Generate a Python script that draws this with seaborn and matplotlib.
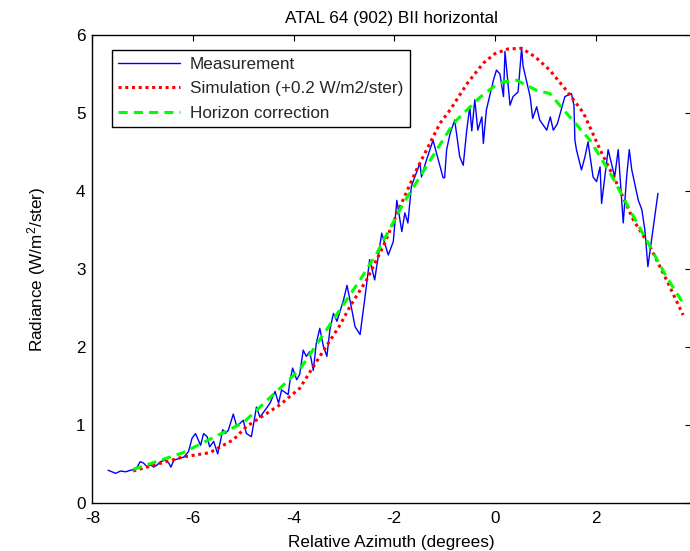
import numpy as np
import pandas as pd
import matplotlib
matplotlib.use("Agg")
import matplotlib.pyplot as plt
import seaborn as sns

# ---- data ----
meas_x = [-7.69, -7.61, -7.54, -7.44, -7.34, -7.24, -7.17, -7.11, -7.05, -6.98,
          -6.91, -6.85, -6.78, -6.71, -6.65, -6.55, -6.48, -6.44, -6.38, -6.28,
          -6.18, -6.09, -6.02, -5.95, -5.85, -5.79, -5.72, -5.67, -5.59, -5.51,
          -5.45, -5.41, -5.36, -5.30, -5.20, -5.13, -5.07, -5.00, -4.94, -4.84,
          -4.74, -4.67, -4.57, -4.47, -4.37, -4.30, -4.24, -4.11, -4.07, -4.02,
          -3.94, -3.88, -3.81, -3.75, -3.68, -3.61, -3.55, -3.48, -3.41, -3.34,
          -3.28, -3.21, -3.14, -3.01, -2.94, -2.88, -2.78, -2.68, -2.58, -2.49,
          -2.39, -2.25, -2.12, -2.02, -1.95, -1.85, -1.79, -1.73, -1.66, -1.49,
          -1.46, -1.36, -1.23, -1.03, -1.00, -0.96, -0.89, -0.80, -0.70, -0.63,
          -0.56, -0.50, -0.46, -0.40, -0.34, -0.26, -0.23, -0.17, -0.03, 0.03,
          0.10, 0.17, 0.20, 0.30, 0.36, 0.46, 0.53, 0.56, 0.70, 0.75,
          0.83, 0.89, 1.03, 1.10, 1.16, 1.24, 1.39, 1.52, 1.57, 1.59,
          1.62, 1.72, 1.79, 1.85, 1.95, 2.02, 2.09, 2.12, 2.25, 2.38,
          2.45, 2.55, 2.62, 2.67, 2.72, 2.85, 2.92, 2.98, 3.04, 3.14, 3.24]
meas_y = [0.42, 0.40, 0.38, 0.41, 0.40, 0.42, 0.43, 0.46, 0.53, 0.51,
          0.46, 0.49, 0.46, 0.49, 0.53, 0.55, 0.51, 0.46, 0.55, 0.57,
          0.59, 0.66, 0.83, 0.89, 0.74, 0.89, 0.85, 0.72, 0.79, 0.63,
          0.81, 0.94, 0.89, 0.93, 1.14, 0.98, 1.02, 1.06, 0.89, 0.85,
          1.23, 1.10, 1.19, 1.28, 1.43, 1.28, 1.45, 1.39, 1.58, 1.73,
          1.58, 1.65, 1.96, 1.88, 1.94, 1.70, 2.05, 2.24, 2.01, 1.88,
          2.22, 2.43, 2.33, 2.60, 2.79, 2.60, 2.26, 2.16, 2.65, 3.12,
          2.86, 3.46, 3.18, 3.35, 3.88, 3.48, 3.72, 3.59, 4.06, 4.36,
          4.18, 4.40, 4.65, 4.17, 4.17, 4.53, 4.74, 4.91, 4.44, 4.33,
          4.78, 5.08, 4.77, 5.17, 4.78, 4.95, 4.61, 5.04, 5.42, 5.55,
          5.50, 5.21, 5.79, 5.10, 5.21, 5.27, 5.83, 5.60, 5.21, 4.93,
          5.08, 4.91, 4.78, 4.95, 4.78, 4.86, 5.21, 5.25, 5.10, 4.65,
          4.53, 4.27, 4.44, 4.63, 4.18, 4.12, 4.31, 3.84, 4.53, 4.18,
          4.53, 3.59, 4.20, 4.53, 4.27, 3.88, 3.76, 3.50, 3.03, 3.50, 3.97]

sim_x = [-7.19, -6.20, -5.67, -5.20, -4.94, -4.27, -3.88, -3.48, -3.08, -2.88,
         -2.55, -2.22, -1.90, -1.56, -1.09, -0.89, -0.55, -0.23, 0.00, 0.25,
         0.53, 0.80, 1.09, 1.42, 1.76, 2.09, 2.42, 2.75, 3.08, 3.41, 3.74]
sim_y = [0.41, 0.59, 0.645, 0.81, 0.98, 1.26, 1.47, 1.88, 2.28, 2.52,
         2.86, 3.29, 3.78, 4.27, 4.87, 5.04, 5.38, 5.64, 5.76, 5.82,
         5.83, 5.72, 5.55, 5.29, 5.00, 4.53, 4.10, 3.63, 3.29, 2.86, 2.41]

hor_x = [-7.19, -6.20, -5.00, -3.88, -2.88, -2.68, -2.35, -1.82, -1.30, -0.89,
         -0.76, -0.30, 0.00, 0.17, 0.43, 0.83, 1.09, 1.42, 1.89, 2.29,
         2.68, 3.08, 3.41, 3.78]
hor_y = [0.43, 0.645, 1.03, 1.71, 2.67, 2.86, 3.20, 3.84, 4.38, 4.80,
         4.91, 5.20, 5.35, 5.40, 5.42, 5.29, 5.25, 5.00, 4.65, 4.23,
         3.76, 3.29, 2.90, 2.52]

labels = ["Measurement", "Simulation (+0.2 W/m2/ster)", "Horizon correction"]

# ---- styling ----
sns.set_theme(style="white")
plt.rcParams['font.family'] = ['Liberation Sans', 'DejaVu Sans']
plt.rcParams['mathtext.fontset'] = 'custom'
plt.rcParams['mathtext.rm'] = 'Liberation Sans'
plt.rcParams['mathtext.it'] = 'Liberation Sans'
plt.rcParams['axes.unicode_minus'] = False

FS = 12.3
fig = plt.figure(figsize=(6.9, 5.51), dpi=100)
L, R = 92.4 / 690, 690.5 / 690
B, T = (551 - 503) / 551, (551 - 35) / 551
ax = fig.add_axes([L, B, R - L, T - B])

d_meas = pd.DataFrame({"x": meas_x, "y": meas_y})
d_sim = pd.DataFrame({"x": sim_x, "y": sim_y})
d_hor = pd.DataFrame({"x": hor_x, "y": hor_y})

sns.lineplot(data=d_meas, x="x", y="y", ax=ax, color=(0, 0, 1), lw=1.0,
             sort=False, estimator=None, label=labels[0])
sns.lineplot(data=d_sim, x="x", y="y", ax=ax, color=(1, 0, 0), lw=2.2,
             sort=False, estimator=None, label=labels[1], linestyle=(0, (1, 1.2)))
sns.lineplot(data=d_hor, x="x", y="y", ax=ax, color=(0, 1, 0), lw=2.2,
             sort=False, estimator=None, label=labels[2], linestyle=(0, (3, 2)))

ax.set_xlim(-8, (690.5 - 494.6) / 50.4)
ax.set_ylim(0, 6)
ax.set_xticks([-8, -6, -4, -2, 0, 2])
ax.set_yticks([0, 1, 2, 3, 4, 5, 6])
ax.tick_params(direction='in', length=4, width=0.8, top=True, right=True,
               labelsize=FS, colors='black')
ax.tick_params(axis='x', pad=6)
ax.tick_params(axis='y', pad=5)
for s in ax.spines.values():
    s.set_color('black')
    s.set_linewidth(1.0)
ax.spines['right'].set_visible(False)

ax.set_xlabel("Relative Azimuth (degrees)", fontsize=FS, color='black', labelpad=6)
ax.set_ylabel("Radiance (W/m$^2$/ster)", fontsize=FS, color='black', labelpad=20)
ax.set_title("ATAL 64 (902) BII horizontal", fontsize=FS, color='black', pad=9)

leg = ax.legend(loc='upper left', bbox_to_anchor=(0.032, 0.968), fontsize=FS,
                frameon=True, fancybox=False, edgecolor='black', framealpha=1,
                handlelength=3.6, handletextpad=0.6, borderpad=0.4,
                labelspacing=0.55, borderaxespad=0)
leg.get_frame().set_linewidth(1.0)

fig.savefig("out.png", dpi=100)
